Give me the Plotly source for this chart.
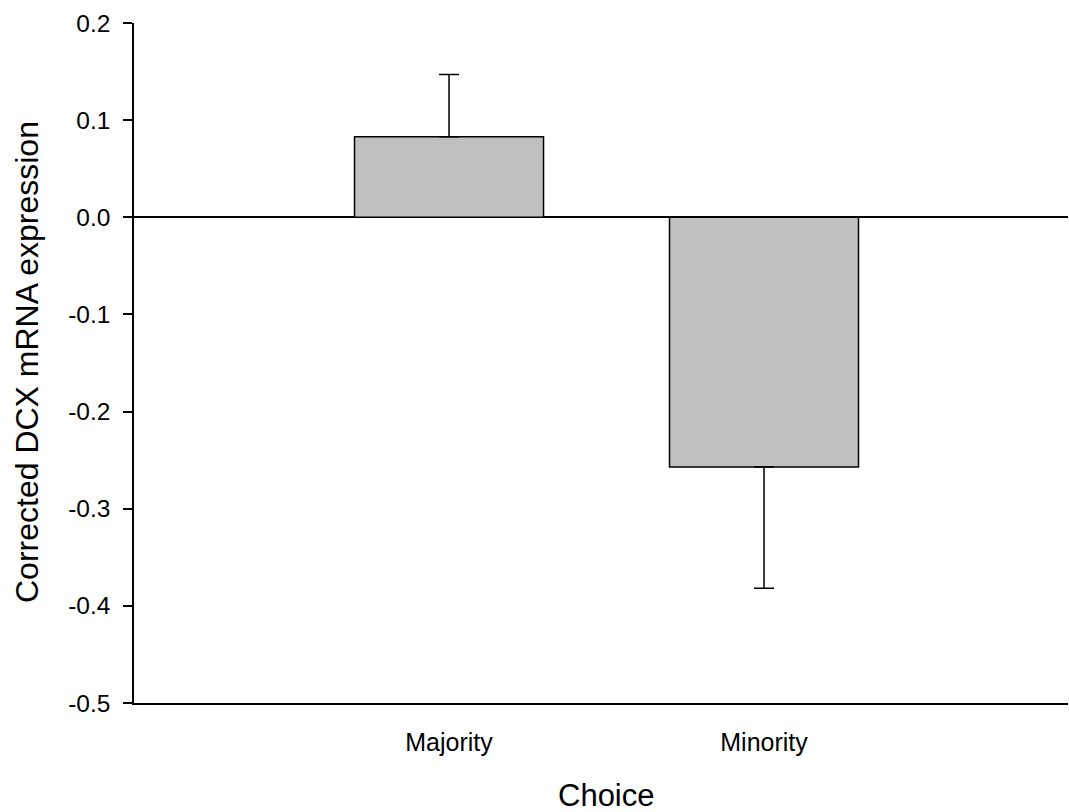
import plotly.graph_objects as go

# Group labels, means and one-sided error values
categories = ["Majority", "Minority"]
positions = [1, 2]
means = [0.083, -0.257]
err_plus = [0.064, 0.0]
err_minus = [0.0, 0.125]
y_ticks = [-0.5, -0.4, -0.3, -0.2, -0.1, 0.0, 0.1, 0.2]
y_tick_text = ["-0.5", "-0.4", "-0.3", "-0.2", "-0.1", "0.0", "0.1", "0.2"]

FONT = "Liberation Sans, Arial, sans-serif"

fig = go.Figure()
fig.add_trace(go.Bar(
    x=positions,
    y=means,
    width=0.6,
    marker=dict(color="#c0c0c0", line=dict(color="black", width=1.5)),
    error_y=dict(type="data", symmetric=False, array=err_plus, arrayminus=err_minus,
                 color="black", thickness=1.5, width=10),
    showlegend=False,
))

fig.update_layout(
    width=1069, height=812,
    margin=dict(l=134, r=1, t=23, b=109),
    plot_bgcolor="white", paper_bgcolor="white",
    font=dict(family=FONT, color="black"),
    xaxis=dict(
        range=[0, 2.965],
        tickvals=positions, ticktext=categories,
        tickfont=dict(size=25, family=FONT, color="black"),
        ticks="", showgrid=False, zeroline=False,
        showline=True, linecolor="black", linewidth=1.5,
        ticklabelstandoff=16,
    ),
    yaxis=dict(
        range=[-0.5, 0.2],
        tickvals=y_ticks, ticktext=y_tick_text,
        tickfont=dict(size=24.5, family=FONT, color="black"),
        ticks="outside", ticklen=9, tickwidth=1.5, tickcolor="black",
        showgrid=False,
        zeroline=True, zerolinecolor="black", zerolinewidth=1.5,
        showline=True, linecolor="black", linewidth=1.5,
        ticklabelstandoff=8,
    ),
    annotations=[
        dict(text="Choice", xref="x", yref="paper", x=1.5, y=-0.136,
             xanchor="center", yanchor="middle", showarrow=False,
             font=dict(size=31, family=FONT, color="black")),
        dict(text="Corrected DCX mRNA expression", xref="paper", yref="paper",
             x=-(134 - 27) / 934, y=0.5 + (362 - 361) / 680,
             xanchor="center", yanchor="middle", textangle=-90, showarrow=False,
             font=dict(size=32, family=FONT, color="black")),
    ],
)

fig.write_html("out.html")
